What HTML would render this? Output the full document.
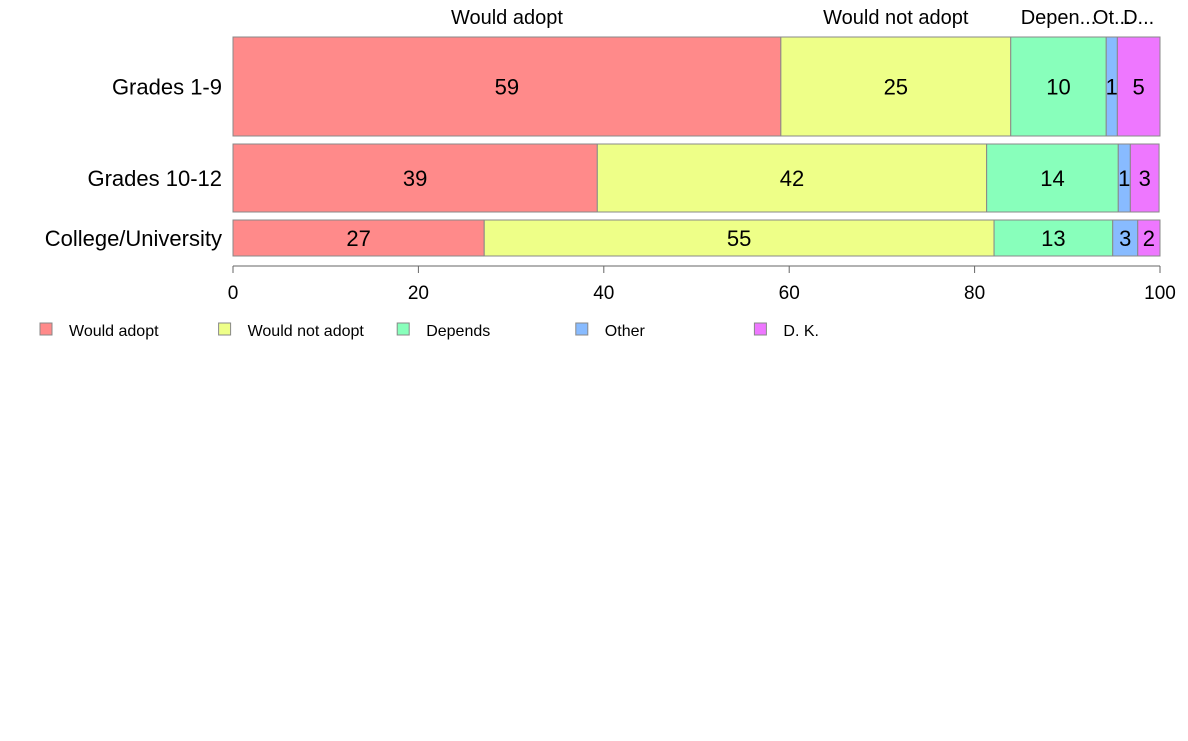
<!DOCTYPE html>
<html><head><meta charset="utf-8"><style>
body{margin:0;background:#fff;font-family:"Liberation Sans",Arial,sans-serif}
svg text{font-family:"Liberation Sans",Arial,sans-serif}
</style></head><body>
<svg id="chart" width="1188" height="736" xmlns="http://www.w3.org/2000/svg"></svg>
<script>
const categories=["Grades 1-9","Grades 10-12","College/University"];
const weights=[99,68,36];
const seriesNames=["Would adopt","Would not adopt","Depends","Other","D. K."];
const topLabels=["Would adopt","Would not adopt","Depen...","Ot...","D..."];
const wouldAdopt=[59.1,39.3,27.1];
const wouldNot=[24.8,42.0,55.0];
const depends=[10.3,14.2,12.8];
const other=[1.2,1.3,2.7];
const dk=[4.6,3.1,2.4];
const xTicks=[0,20,40,60,80,100];
const series=[wouldAdopt,wouldNot,depends,other,dk];
const colors=["#FF8A8A","#EEFF88","#88FFBB","#88BBFF","#EE77FF"];
const svg=document.getElementById('chart');
const NS="http://www.w3.org/2000/svg";
const x0=233,x1=1160,yTop=37,yBot=256,gap=8;
const xs=v=>x0+(x1-x0)*v/100;
function mk(t,a,txt){const e=document.createElementNS(NS,t);for(const k in a)e.setAttribute(k,a[k]);if(txt!=null)e.textContent=txt;svg.appendChild(e);return e;}
const totalW=weights.reduce((a,b)=>a+b,0);
const avail=yBot-yTop-gap*(categories.length-1);
let y=yTop;
categories.forEach((c,i)=>{
  const h=avail*weights[i]/totalW;
  let cum=0;
  series.forEach((s,j)=>{
    const v=s[i];
    const r=mk('rect',{x:xs(cum),y:y,width:xs(cum+v)-xs(cum),height:h,fill:colors[j],stroke:'#888','stroke-width':1});
    
    
    const t=mk('text',{x:(xs(cum)+xs(cum+v))/2,y:y+h/2+8,'text-anchor':'middle','font-size':22,fill:'#000'},Math.round(v));
    
    
    if(i===0){
      const tl=mk('text',{x:(xs(cum)+xs(cum+v))/2,y:24,'text-anchor':'middle','font-size':20,fill:'#000'},topLabels[j]);
      
      
    }
    cum+=v;
  });
  const cl=mk('text',{x:222,y:y+h/2+8,'text-anchor':'end','font-size':22,fill:'#000'},c);
  
  
  y+=h+gap;
});
const ax=mk('line',{x1:x0,x2:x1,y1:266,y2:266,stroke:'#666'});


xTicks.forEach(v=>{
  const tk=mk('line',{x1:xs(v),x2:xs(v),y1:266,y2:273,stroke:'#666'});
  
  
  const tl=mk('text',{x:xs(v),y:299,'text-anchor':'middle','font-size':19,fill:'#000'},v);
  
  
});
seriesNames.forEach((n,j)=>{
  const lx=40+j*178.6;
  const r=mk('rect',{x:lx,y:323,width:12,height:12,fill:colors[j],stroke:'#888'});
  
  
  const t=mk('text',{x:lx+29,y:336,'font-size':16,fill:'#000'},n);
  
  
});
</script>
</body></html>
